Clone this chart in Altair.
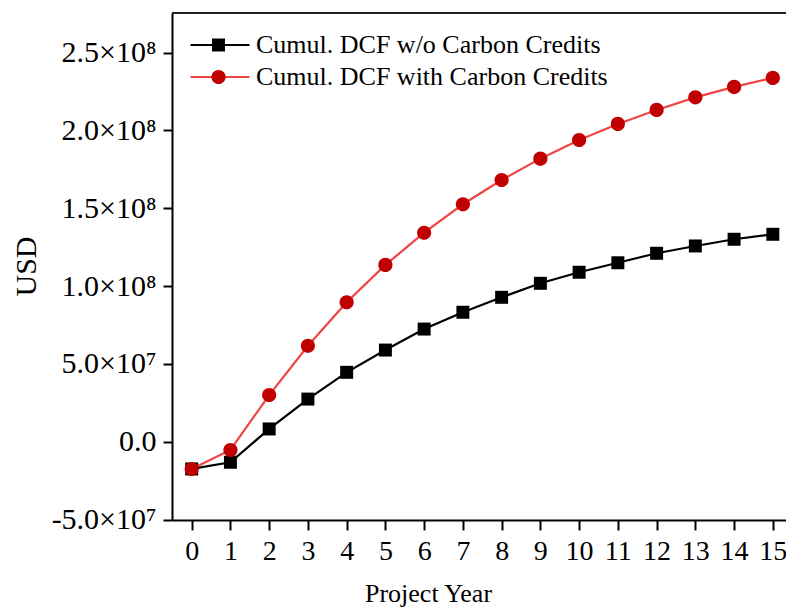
import altair as alt
import pandas as pd

# Data (USD, millions)
years = list(range(16))
dcf_without_cc = [-17.5, -13.2, 8.2, 27.4, 44.6, 58.9, 72.4, 83.2, 92.8, 101.8,
                  108.9, 115.0, 121.1, 125.8, 130.1, 133.3]
dcf_with_cc = [-17.5, -5.3, 30.0, 61.7, 89.6, 113.6, 134.3, 152.6, 168.2, 181.9,
               193.9, 204.2, 213.2, 221.3, 228.0, 233.8]
series_names = ["Cumul. DCF w/o Carbon Credits", "Cumul. DCF with Carbon Credits"]
y_ticks = [-5e7, 0, 5e7, 1e8, 1.5e8, 2e8, 2.5e8]

rows = []
for name, vals in zip(series_names, [dcf_without_cc, dcf_with_cc]):
    for yr, v in zip(years, vals):
        rows.append({"year": yr, "usd": v * 1e6, "series": name})
df = pd.DataFrame(rows)

FONT = "Liberation Serif"
SYM = 3481  # symbol box (59 px) used for legend line + marker paths
square_path = "M-0.22,-0.22H0.22V0.22H-0.22Z"
circle_path = "M-0.24,0A0.24,0.24 0 1,0 0.24,0A0.24,0.24 0 1,0 -0.24,0Z"

label_expr = ("datum.value == 0 ? '0.0' : (datum.value < 0 ? '-' : '') + "
              "(abs(datum.value) >= 1e8 ? format(abs(datum.value)/1e8, '.1f') + '×10⁸' : "
              "format(abs(datum.value)/1e7, '.1f') + '×10⁷')")

x_scale = alt.Scale(domain=[-0.508, 15.34], nice=False, zero=False)
y_scale = alt.Scale(domain=[-5.03e7, 2.755e8], nice=False, zero=False)

x_enc = alt.X("year:Q", scale=x_scale,
              axis=alt.Axis(values=years, title="Project Year", grid=False,
                            labelFont=FONT, labelFontSize=28, labelColor="black",
                            labelPadding=7, tickSize=10, tickWidth=2, tickColor="black",
                            domainWidth=2, domainColor="black",
                            titleFont=FONT, titleFontSize=26, titleFontWeight="normal",
                            titleColor="black", titleX=256, titleY=81,
                            titleAlign="center", titleBaseline="alphabetic",
                            labelFlush=False))
y_enc = alt.Y("usd:Q", scale=y_scale,
              axis=alt.Axis(values=y_ticks, labelExpr=label_expr, title="USD", grid=False,
                            labelFont=FONT, labelFontSize=30, labelColor="black",
                            labelPadding=7, tickSize=9, tickWidth=2, tickColor="black",
                            domainWidth=2, domainColor="black",
                            titleFont=FONT, titleFontSize=30, titleFontWeight="normal",
                            titleColor="black", titleX=-137, titleY=253,
                            titleAlign="center", titleBaseline="alphabetic",
                            titleAngle=270, labelFlush=False))

legend_common = dict(orient="none", legendX=17, legendY=16, padding=0,
                     clipHeight=32, rowPadding=0, labelOffset=5,
                     labelFont=FONT, labelFontSize=26, labelColor="black",
                     labelLimit=600, title=None, symbolSize=SYM)

lines = alt.Chart(df).mark_line(strokeWidth=2.2).encode(
    x=x_enc, y=y_enc,
    color=alt.Color("series:N",
                    scale=alt.Scale(domain=series_names, range=["#000000", "#f04545"]),
                    legend=alt.Legend(symbolType="stroke", symbolStrokeWidth=2.2,
                                      **legend_common)),
)

points = alt.Chart(df).mark_point(filled=True, opacity=1, size=SYM, strokeWidth=0).encode(
    x=x_enc, y=y_enc,
    color=alt.Color("series:N",
                    scale=alt.Scale(domain=series_names, range=["#000000", "#c00000"]),
                    legend=alt.Legend(labelExpr="''", symbolStrokeWidth=0,
                                      symbolOpacity=1, **legend_common)),
    shape=alt.Shape("series:N",
                    scale=alt.Scale(domain=series_names, range=[square_path, circle_path]),
                    legend=alt.Legend(labelExpr="''", symbolStrokeWidth=0,
                                      symbolOpacity=1, **legend_common)),
)

# top frame line of the plot box (spans the whole plot width)
top_frame = alt.Chart(df).mark_rule(color="#222222", strokeWidth=2).encode(
    y=alt.value(0)
)

chart = alt.layer(top_frame, lines, points).resolve_scale(
    color="independent", shape="independent"
).properties(
    width=614, height=507,
    autosize=alt.AutoSizeParams(type="none"),
    padding={"left": 164, "top": 5, "right": 0, "bottom": 87},
    background="white",
).configure_view(stroke=None)

chart.save("out.html", embed_options={"renderer": "svg", "actions": False})
